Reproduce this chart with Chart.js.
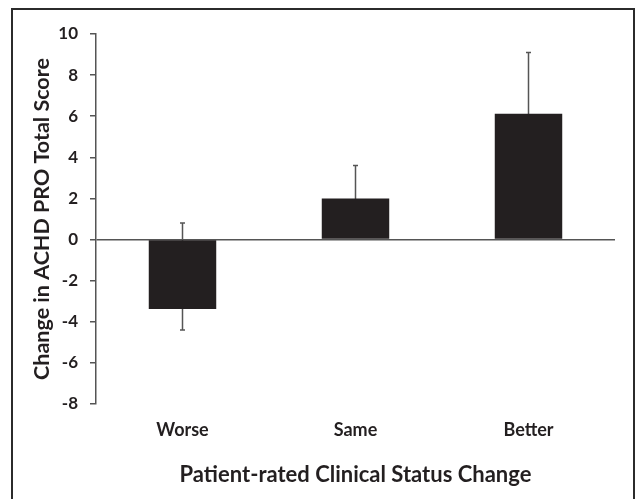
<!DOCTYPE html>
<html>
<head>
<meta charset="utf-8">
<script src="https://cdn.jsdelivr.net/npm/chart.js@4"></script>
<style>
  html, body { margin: 0; padding: 0; background: #fff; }
  #wrap { width: 636px; height: 499px; position: relative; }
</style>
</head>
<body>
<div id="wrap"><canvas id="myChart" width="636" height="499"></canvas></div>
<script>
const categories = ["Worse", "Same", "Better"];
const meanChange = [-3.38, 2.0, 6.12];
const errLow = [-4.4, 0.4, 3.15];
const errHigh = [0.8, 3.6, 9.1];
const yTicks = [-8, -6, -4, -2, 0, 2, 4, 6, 8, 10];

const ink = '#231f20';
const axisGrey = '#555555';

// frame round the whole figure
const framePlugin = {
    id: 'frame',
    beforeDraw(chart) {
        const c = chart.ctx;
        c.save();
        c.fillStyle = '#fff';
        c.fillRect(0, 0, chart.width, chart.height);
        c.strokeStyle = '#2b2b2b';
        c.lineWidth = 2;
        c.strokeRect(12, 9, 622, 520);
        c.restore();
    }
};

// error bars drawn under the bars, so the part inside a bar is hidden
const errorBars = {
    id: 'errorBars',
    beforeDatasetsDraw(chart) {
        const c = chart.ctx;
        const y = chart.scales.y;
        const meta = chart.getDatasetMeta(0);
        c.save();
        c.strokeStyle = axisGrey;
        c.lineWidth = 1.5;
        meta.data.forEach((bar, i) => {
            const x = bar.x;
            const lo = y.getPixelForValue(errLow[i]);
            const hi = y.getPixelForValue(errHigh[i]);
            c.beginPath();
            c.moveTo(x, lo); c.lineTo(x, hi);
            c.moveTo(x - 2.5, hi); c.lineTo(x + 2.5, hi);
            c.moveTo(x - 2.5, lo); c.lineTo(x + 2.5, lo);
            c.stroke();
        });
        c.restore();
    }
};

const ctx = document.getElementById('myChart').getContext('2d');
new Chart(ctx, {
    type: 'bar',
    data: {
        labels: categories,
        datasets: [{
            data: meanChange,
            backgroundColor: ink,
            borderWidth: 0,
            categoryPercentage: 1,
            barPercentage: 0.39
        }]
    },
    options: {
        responsive: false,
        animation: false,
        layout: { padding: { top: 34, right: 21, bottom: 11, left: 29 } },
        plugins: { legend: { display: false }, tooltip: { enabled: false } },
        scales: {
            x: {
                afterFit(scale) { scale.height = 84; },
                grid: { display: false, drawTicks: false },
                border: { display: false },
                ticks: { color: ink, padding: 15, font: { family: 'Lato', size: 18, weight: 'bold' } },
                title: {
                    display: true,
                    text: 'Patient-rated Clinical Status Change',
                    color: ink,
                    padding: 0,
                    font: { family: 'Lato', size: 22, weight: 'bold' }
                }
            },
            y: {
                min: -8,
                max: 10,
                afterBuildTicks(axis) {
                    axis.ticks = yTicks.map(v => ({ value: v }));
                },
                afterFit(scale) { scale.width = 67; },
                grid: {
                    color: c => (c.tick && c.tick.value === 0) ? axisGrey : 'transparent',
                    tickColor: axisGrey,
                    tickLength: 6,
                    lineWidth: 1.5
                },
                border: { display: true, color: axisGrey, width: 1.5 },
                ticks: { color: ink, padding: 12, font: { family: 'Lato', size: 17, weight: 'bold' } },
                title: {
                    display: true,
                    text: 'Change in ACHD PRO Total Score',
                    color: ink,
                    padding: 0,
                    font: { family: 'Lato', size: 21.5, weight: 'bold' }
                }
            }
        }
    },
    plugins: [framePlugin, errorBars]
});
</script>
</body>
</html>
